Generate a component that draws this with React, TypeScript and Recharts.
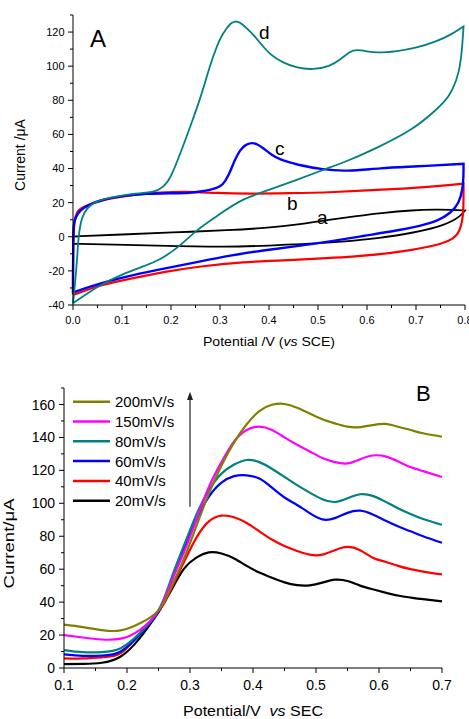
import React from 'react';
import { LineChart, Line, XAxis, YAxis } from 'recharts';

const FONT = '"Liberation Sans", Arial, Helvetica, sans-serif';

// ---------------- Panel A : cyclic voltammograms ----------------
const aXTicks = [0, 0.05, 0.1, 0.15, 0.2, 0.25, 0.3, 0.35, 0.4, 0.45, 0.5, 0.55, 0.6, 0.65, 0.7, 0.75, 0.8];
const aXLabelTicks = [0, 0.1, 0.2, 0.3, 0.4, 0.5, 0.6, 0.7, 0.8];
const aYTicks = [-40, -30, -20, -10, 0, 10, 20, 30, 40, 50, 60, 70, 80, 90, 100, 110, 120, 130];
const aYLabelTicks = [-40, -20, 0, 20, 40, 60, 80, 100, 120];

// curve a (black)
const curveA_x = [0, 0, 0, 0, 0.1, 0.2, 0.32, 0.4, 0.457, 0.524, 0.58, 0.627, 0.694, 0.74, 0.775, 0.8, 0.8, 0.8, 0.79, 0.762, 0.694, 0.627, 0.524, 0.388, 0.32, 0.19, 0.08, 0, 0, 0];
const curveA_y = [-4.1, -4.1, 0.2, 0.2, 1.3, 2.5, 3.8, 5.3, 7, 10, 12.2, 13.9, 15.6, 16, 15.8, 15.4, 15.4, 15.4, 11.9, 7, 2.2, -0.8, -3.7, -5.3, -6, -5.3, -4.6, -4.1, -4.1, -4.1];

// curve b (red)
const curveB_x = [0, 0, 0, 0, 0.0005, 0.001, 0.002, 0.007, 0.02, 0.055, 0.123, 0.177, 0.232, 0.293, 0.36, 0.44, 0.524, 0.66, 0.74, 0.797, 0.797, 0.797, 0.797, 0.796, 0.792, 0.785, 0.776, 0.756, 0.7, 0.592, 0.457, 0.341, 0.259, 0.191, 0.123, 0.055, 0.0075, 0, 0, 0];
const curveB_y = [-34, -34, -34, -20, -5, 3, 8, 14.8, 17.5, 21.5, 24.6, 26, 26.6, 25.6, 25.2, 25.5, 26, 28, 29.6, 31.1, 31.1, 31.1, 20, 12, 6, 1.5, -1, -4, -7.6, -11.6, -13.5, -14.8, -17.4, -20.3, -24.2, -28.2, -33.4, -34, -34, -34];

// curve c (blue)
const curveC_x = [0, 0, 0, 0, 0.0005, 0.001, 0.002, 0.006, 0.015, 0.03, 0.055, 0.1, 0.15, 0.2, 0.24, 0.26, 0.28, 0.293, 0.305, 0.318, 0.33, 0.341, 0.352, 0.365, 0.376, 0.388, 0.405, 0.422, 0.457, 0.511, 0.558, 0.627, 0.7, 0.797, 0.797, 0.797, 0.797, 0.795, 0.788, 0.771, 0.743, 0.71, 0.66, 0.592, 0.524, 0.457, 0.388, 0.32, 0.259, 0.191, 0.123, 0.055, 0.0075, 0, 0, 0];
const curveC_y = [-32.7, -32.7, -32.7, -20, -5, 3, 8, 12, 15.5, 18.5, 21.5, 24, 25.3, 25.5, 25.7, 26.5, 27.5, 28.6, 30, 36, 45, 51, 54, 55.3, 54.3, 52, 48, 45.2, 42.2, 39.3, 38.3, 40.3, 41.2, 42.8, 42.8, 42.8, 35, 27.6, 19.8, 13.9, 9, 6.5, 3.5, 0.5, -2.8, -5.5, -8, -11, -14.5, -18.4, -22.3, -27.2, -32, -32.7, -32.7, -32.7];

// curve d (teal)
const curveD_x = [0, 0, 0, 0.004, 0.008, 0.011, 0.016, 0.022, 0.035, 0.055, 0.076, 0.1, 0.122, 0.15, 0.171, 0.185, 0.198, 0.222, 0.242, 0.259, 0.273, 0.286, 0.3, 0.314, 0.322, 0.331, 0.341, 0.354, 0.368, 0.382, 0.402, 0.429, 0.457, 0.49, 0.524, 0.545, 0.565, 0.579, 0.599, 0.62, 0.661, 0.701, 0.742, 0.772, 0.797, 0.797, 0.797, 0.794, 0.79, 0.783, 0.769, 0.742, 0.694, 0.627, 0.559, 0.511, 0.457, 0.4, 0.341, 0.293, 0.252, 0.218, 0.178, 0.143, 0.1, 0.06, 0.03, 0, 0, 0];
const curveD_y = [-39, -39, -39, -28, -15, 0, 9, 14, 18.8, 21.5, 22.9, 24.2, 25.2, 25.8, 26.8, 29.5, 33.4, 51, 66.7, 80.4, 94, 105.8, 116.6, 122.4, 125.3, 126.5, 125.7, 122.4, 118.5, 113.6, 106.7, 101.9, 98.9, 97.9, 99.9, 103.8, 108.7, 109.7, 108.7, 107.7, 108.7, 110.7, 114.5, 118.5, 123.3, 123.3, 123.3, 110, 100, 92, 82.3, 74.5, 62.8, 53, 44.2, 39.3, 33.4, 27.5, 21.7, 11.9, 4.1, -5.7, -13.5, -17.4, -22, -27.5, -33, -39, -39, -39];

// ---------------- Panel B : DPV at scan rates ----------------
const bXTicks = [0.1, 0.15, 0.2, 0.25, 0.3, 0.35, 0.4, 0.45, 0.5, 0.55, 0.6, 0.65, 0.7];
const bXLabelTicks = [0.1, 0.2, 0.3, 0.4, 0.5, 0.6, 0.7];
const bYTicks = [0, 10, 20, 30, 40, 50, 60, 70, 80, 90, 100, 110, 120, 130, 140, 150, 160, 170];
const bYLabelTicks = [0, 20, 40, 60, 80, 100, 120, 140, 160];

const bPotential = [0.10, 0.13, 0.16, 0.19, 0.22, 0.25, 0.27, 0.29, 0.31, 0.33, 0.35, 0.37, 0.39, 0.41, 0.43, 0.45, 0.47, 0.49, 0.51, 0.53, 0.55, 0.57, 0.59, 0.61, 0.63, 0.65, 0.67, 0.70];
const s20 = [2.4, 2.5, 3.2, 7, 18, 34, 47, 60, 67, 70.2, 69.5, 66.5, 62, 58, 54.8, 52, 50.3, 50.2, 51.8, 53.6, 52.8, 50, 47.8, 45.8, 44, 42.8, 41.8, 40.5];
const s40 = [5.9, 5.8, 6.5, 9, 21, 34, 48, 64, 79, 89, 92.5, 91.5, 88, 83, 78, 74, 71, 68.8, 68.8, 71.5, 73.5, 71.5, 67, 64.5, 62, 60, 58.5, 56.8];
const s60 = [8.3, 7.4, 7.5, 10, 20, 34, 52, 72, 90, 104, 112.5, 116.5, 117, 115, 109.5, 103.5, 99, 94, 90.2, 91, 94.2, 95.5, 93.2, 89.5, 86, 83, 80, 76];
const s80 = [10.9, 9.6, 9.6, 12, 21, 35, 54, 74, 93, 108, 118, 123.5, 126.3, 125, 121, 116, 111, 106.5, 102.5, 100.8, 103, 105.5, 104.5, 101, 97, 93.5, 90.5, 87];
const s150 = [20, 18.5, 17.3, 17.8, 23, 35, 52, 70, 90, 110, 125, 137.5, 144.5, 146.5, 144.5, 140, 135.5, 131.5, 127.5, 125, 124.2, 126.7, 129, 128.5, 125.5, 122, 119.5, 116];
const s200 = [26.3, 24.8, 23, 22.8, 27, 35, 49, 66, 86, 106, 123, 137, 148, 156, 159.8, 160.3, 158, 154.5, 151, 148.5, 146.5, 146.3, 147.5, 148.2, 146.5, 144.5, 142.5, 140.4];

const bSeries = [
  { key: 's20', name: '20mV/s', color: '#000000', values: s20 },
  { key: 's40', name: '40mV/s', color: '#FF0000', values: s40 },
  { key: 's60', name: '60mV/s', color: '#0000FF', values: s60 },
  { key: 's80', name: '80mV/s', color: '#008080', values: s80 },
  { key: 's150', name: '150mV/s', color: '#FF00FF', values: s150 },
  { key: 's200', name: '200mV/s', color: '#808000', values: s200 },
];
const legendOrder = ['s200', 's150', 's80', 's60', 's40', 's20'];

const zip = (xs: number[], ys: number[]) => xs.map((x, i) => ({ x, y: ys[i] }));
const dataA = zip(curveA_x, curveA_y);
const dataB = zip(curveB_x, curveB_y);
const dataC = zip(curveC_x, curveC_y);
const dataD = zip(curveD_x, curveD_y);

const tableB = bPotential.map((x, i) => {
  const row: any = { x };
  bSeries.forEach((s) => (row[s.key] = s.values[i]));
  return row;
});

const isIn = (list: number[], v: number) => list.some((t) => Math.abs(t - v) < 1e-6);

function makeYTick(labels: number[], fontSize: number, gap: number) {
  return (props: any) => {
    const { x, y, payload } = props;
    const v = payload.value;
    const major = isIn(labels, v);
    return (
      <g>
        <line x1={x - (major ? 5 : 3)} x2={x} y1={y} y2={y} stroke="#000" strokeWidth={1} />
        {major && (
          <text x={x - gap} y={y} dy="0.36em" textAnchor="end" fontSize={fontSize} fontFamily={FONT} fill="#000">
            {String(v)}
          </text>
        )}
      </g>
    );
  };
}

function makeXTick(labels: number[], fontSize: number, base: number) {
  return (props: any) => {
    const { x, y, payload } = props;
    const v = payload.value;
    const major = isIn(labels, v);
    return (
      <g>
        <line x1={x} x2={x} y1={y} y2={y + (major ? 5 : 3)} stroke="#000" strokeWidth={1} />
        {major && (
          <text x={x} y={y + base} textAnchor="middle" fontSize={fontSize} fontFamily={FONT} fill="#000">
            {v.toFixed(1)}
          </text>
        )}
      </g>
    );
  };
}

export default function App() {
  return (
    <div style={{ position: 'absolute', left: 0, top: 0, width: 469, height: 719, background: '#fff', fontFamily: FONT, overflow: 'hidden' }}>
      <div style={{ position: 'absolute', left: 0, top: 0 }}>
        <LineChart width={469} height={360} margin={{ top: 15, right: 4, bottom: 25, left: 0 }}>
          <XAxis
            type="number"
            dataKey="x"
            domain={[0, 0.8]}
            ticks={aXTicks}
            interval={0}
            height={30}
            tickSize={0}
            tickMargin={0}
            axisLine={{ stroke: '#000' }}
            tickLine={false}
            tick={makeXTick(aXLabelTicks, 11, 18.5)}
          />
          <YAxis
            type="number"
            dataKey="y"
            domain={[-40, 130]}
            ticks={aYTicks}
            interval={0}
            width={73}
            tickSize={0}
            tickMargin={0}
            axisLine={{ stroke: '#000' }}
            tickLine={false}
            tick={makeYTick(aYLabelTicks, 11, 8.5)}
          />
          <Line data={dataA} dataKey="y" type="basis" stroke="#000000" strokeWidth={1.8} dot={false} activeDot={false} isAnimationActive={false} />
          <Line data={dataB} dataKey="y" type="basis" stroke="#FF0000" strokeWidth={2.2} dot={false} activeDot={false} isAnimationActive={false} />
          <Line data={dataC} dataKey="y" type="basis" stroke="#0000FF" strokeWidth={2.4} dot={false} activeDot={false} isAnimationActive={false} />
          <Line data={dataD} dataKey="y" type="basis" stroke="#008080" strokeWidth={1.8} dot={false} activeDot={false} isAnimationActive={false} />
        </LineChart>
      </div>
      <div style={{ position: 'absolute', left: 0, top: 360 }}>
        <LineChart width={469} height={359} data={tableB} margin={{ top: 28, right: 27, bottom: 21, left: 0 }}>
          <XAxis
            type="number"
            dataKey="x"
            domain={[0.1, 0.7]}
            ticks={bXTicks}
            interval={0}
            height={30}
            tickSize={0}
            tickMargin={0}
            axisLine={{ stroke: '#000' }}
            tickLine={false}
            tick={makeXTick(bXLabelTicks, 14, 21.5)}
          />
          <YAxis
            type="number"
            domain={[0, 170]}
            ticks={bYTicks}
            interval={0}
            width={64}
            tickSize={0}
            tickMargin={0}
            axisLine={{ stroke: '#000' }}
            tickLine={false}
            tick={makeYTick(bYLabelTicks, 14, 9)}
          />
          {bSeries.map((s) => (
            <Line key={s.key} dataKey={s.key} type="natural" stroke={s.color} strokeWidth={2.2} dot={false} activeDot={false} isAnimationActive={false} />
          ))}
        </LineChart>
      </div>
      <svg width={469} height={719} style={{ position: 'absolute', left: 0, top: 0, pointerEvents: 'none' }} fontFamily={FONT}>
        {/* Panel A annotations */}
        <text x={90} y={47} fontSize={24} fill="#000">A</text>
        <text x={259} y={39} fontSize={19} fill="#000">d</text>
        <text x={275} y={155} fontSize={19} fill="#000">c</text>
        <text x={287} y={210} fontSize={19} fill="#000">b</text>
        <text x={317} y={224} fontSize={19} fill="#000">a</text>
        <text transform="translate(24.5,155) rotate(-90)" textAnchor="middle" fontSize={14} fill="#000">Current /μA</text>
        <text x={269} y={346} textAnchor="middle" fontSize={13.5} textLength={132} lengthAdjust="spacingAndGlyphs" fill="#000">
          Potential /V (<tspan fontStyle="italic">vs</tspan> SCE)
        </text>
        {/* Panel B annotations */}
        <text x={416} y={400.7} fontSize={22} fill="#000">B</text>
        <text transform="translate(14,543.5) rotate(-90)" textAnchor="middle" fontSize={14} textLength={90} lengthAdjust="spacingAndGlyphs" fill="#000">Current/μA</text>
        <text x={253} y={716} textAnchor="middle" fontSize={14.5} textLength={140} lengthAdjust="spacingAndGlyphs" fill="#000">
          Potential/V<tspan dx={8} fontStyle="italic">vs</tspan> SEC
        </text>
        {legendOrder.map((k, i) => {
          const s = bSeries.find((d) => d.key === k)!;
          const y = 401.7 + i * 19.8;
          return (
            <g key={k}>
              <line x1={73} x2={110} y1={y} y2={y} stroke={s.color} strokeWidth={2.5} />
              <text x={115} y={y} dy="0.36em" fontSize={15} fill="#000">{s.name}</text>
            </g>
          );
        })}
        <line x1={190} x2={190} y1={506.7} y2={398} stroke="#222" strokeWidth={1.2} />
        <polygon points="190,391.7 187,400 193,400" fill="#222" />
      </svg>
    </div>
  );
}
